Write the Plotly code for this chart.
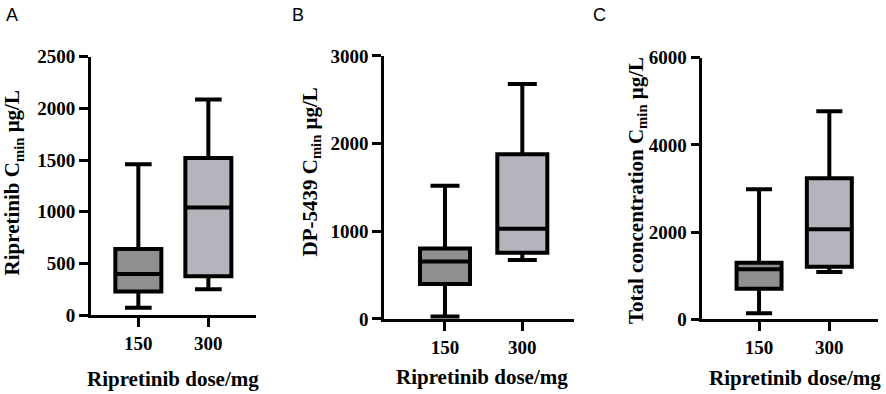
import plotly.graph_objects as go

# ---- data ----
doses = ["150", "300"]

a_min = [70, 250]
a_q1 = [228, 375]
a_med = [398, 1040]
a_q3 = [638, 1520]
a_max = [1460, 2085]

b_min = [28, 672]
b_q1 = [398, 755]
b_med = [655, 1030]
b_q3 = [805, 1878]
b_max = [1520, 2680]

c_min = [140, 1085]
c_q1 = [700, 1205]
c_med = [1145, 2065]
c_q3 = [1298, 3235]
c_max = [2980, 4770]

a_ticks = [0, 500, 1000, 1500, 2000, 2500]
b_ticks = [0, 1000, 2000, 3000]
c_ticks = [0, 2000, 4000, 6000]

fills = ["rgb(143,143,143)", "rgb(180,180,188)"]

SERIF = "Liberation Serif, Times New Roman, serif"
SANS = "Liberation Sans, Arial, sans-serif"

fig = go.Figure()

panels = [
    ("x", "y", a_min, a_q1, a_med, a_q3, a_max, 0.657),
    ("x2", "y2", b_min, b_q1, b_med, b_q3, b_max, 0.647),
    ("x3", "y3", c_min, c_q1, c_med, c_q3, c_max, 0.64),
]

for xa, ya, mn, q1, md, q3, mx, w in panels:
    for i in range(len(doses)):
        fig.add_trace(go.Box(
            x=[i], q1=[q1[i]], median=[md[i]], q3=[q3[i]],
            lowerfence=[mn[i]], upperfence=[mx[i]],
            xaxis=xa, yaxis=ya,
            fillcolor=fills[i],
            line=dict(color="black", width=4),
            width=w, whiskerwidth=0.58,
            boxpoints=False, showlegend=False,
        ))

axis_common = dict(
    showline=True, linecolor="black", linewidth=2.5,
    ticks="outside", ticklen=9, tickwidth=2.5, tickcolor="black",
    showgrid=False, zeroline=False, automargin=False,
    tickfont=dict(family=SERIF, size=19, color="black", weight="bold"),
)

def xaxis(domain, rng, anchor):
    return dict(domain=domain, range=rng, anchor=anchor,
                tickvals=[0, 1], ticktext=["<b>%s</b>" % d for d in doses],
                **axis_common)

def yaxis(domain, rng, ticks, anchor):
    return dict(domain=domain, range=rng, anchor=anchor,
                tickvals=ticks, ticktext=["<b>%d</b>" % t for t in ticks],
                **axis_common)

fig.update_layout(
    width=886, height=394, autosize=False,
    margin=dict(l=0, r=0, t=0, b=0, pad=0),
    paper_bgcolor="white", plot_bgcolor="white",
    xaxis=xaxis([0.1024, 0.2889], [-0.68, 1.68], "y"),
    yaxis=yaxis([0.2005, 0.8561], [0, 2500], a_ticks, "x"),
    xaxis2=xaxis([0.4334, 0.6479], [-0.789, 1.669], "y2"),
    yaxis2=yaxis([0.1904, 0.8579], [0, 3000], b_ticks, "x2"),
    xaxis3=xaxis([0.7927, 0.9910], [-0.807, 1.693], "y3"),
    yaxis3=yaxis([0.1896, 0.8536], [0, 6000], c_ticks, "x3"),
)

title_font = dict(family=SERIF, size=21, color="black")

annotations = [
    # panel letters
    dict(text="A", x=0.0135, y=0.962, font=dict(family=SANS, size=18, color="black")),
    dict(text="B", x=0.336, y=0.962, font=dict(family=SANS, size=18, color="black")),
    dict(text="C", x=0.677, y=0.962, font=dict(family=SANS, size=18, color="black")),
    # x titles
    dict(text="<b>Ripretinib dose/mg</b>", x=0.1953, y=0.038, font=title_font),
    dict(text="<b>Ripretinib dose/mg</b>", x=0.544, y=0.043, font=title_font),
    dict(text="<b>Ripretinib dose/mg</b>", x=0.897, y=0.041, font=title_font),
    # y titles
    dict(text="<b>Ripretinib C<sub>min</sub> μg/L</b>", x=0.0152, y=0.5355,
         textangle=-90, font=title_font),
    dict(text="<b>DP-5439 C<sub>min</sub> μg/L</b>", x=0.3505, y=0.5635,
         textangle=-90, font=title_font),
    dict(text="<b>Total concentration C<sub>min</sub> μg/L</b>", x=0.719, y=0.515,
         textangle=-90, font=title_font),
]
for a in annotations:
    a.update(xref="paper", yref="paper", xanchor="center", yanchor="middle",
             showarrow=False)
fig.update_layout(annotations=annotations)

fig.write_html(
    "out.html",
    config={"responsive": False, "displayModeBar": False},
    post_script="document.body.style.margin='0';document.body.style.overflow='hidden';",
)
